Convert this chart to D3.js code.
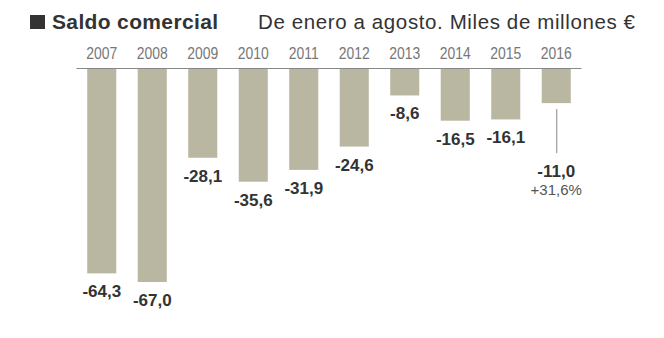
<!DOCTYPE html>
<html>
<head>
<meta charset="utf-8">
<script src="https://cdn.jsdelivr.net/npm/d3@7"></script>
<style>
  body { margin: 0; background: #fff; }
  svg { display: block; }
</style>
</head>
<body>
<svg id="chart" width="664" height="338"></svg>
<script>
// Saldo comercial, enero-agosto, miles de millones de euros
var years = ["2007", "2008", "2009", "2010", "2011", "2012", "2013", "2014", "2015", "2016"];
var saldo = [-64.3, -67.0, -28.1, -35.6, -31.9, -24.6, -8.6, -16.5, -16.1, -11.0];
var variacion2016 = "+31,6%";

var title = "Saldo comercial";
var subtitle = "De enero a agosto. Miles de millones €";

var svg = d3.select("svg#chart");
var font = "Liberation Sans, Arial, Helvetica, sans-serif";

var x = d3.scaleBand()
    .domain(years)
    .range([76.5, 581.5])
    .paddingInner(0.425)
    .paddingOuter(0.2125);

var y = d3.scaleLinear()
    .domain([0, -67])
    .range([68, 282]);

var fmt = function(v) { return d3.format(".1f")(v).replace(".", ",").replace("−", "-"); };

// title
svg.append("rect")
    .attr("x", 30).attr("y", 15)
    .attr("width", 15).attr("height", 14)
    .attr("fill", "#333");

svg.append("text")
    .attr("x", 52).attr("y", 29)
    .attr("font-family", font)
    .attr("font-weight", "bold")
    .attr("font-size", 21)
    .attr("textLength", 166)
    .attr("fill", "#333")
    .text(title);

svg.append("text")
    .attr("x", 258).attr("y", 29)
    .attr("font-family", font)
    .attr("font-size", 20.5)
    .attr("textLength", 377)
    .attr("fill", "#333")
    .text(subtitle);

// year labels (slightly condensed)
svg.selectAll("text.year").data(years).enter()
    .append("text")
    .attr("class", "year")
    .attr("transform", function(d) {
        return "translate(" + (x(d) + x.bandwidth() / 2) + ",59) scale(0.87,1)";
    })
    .attr("text-anchor", "middle")
    .attr("font-family", font)
    .attr("font-size", 16)
    .attr("fill", "#777")
    .text(function(d) { return d; });

// bars
svg.selectAll("rect.bar").data(saldo).enter()
    .append("rect")
    .attr("class", "bar")
    .attr("x", function(d, i) { return x(years[i]); })
    .attr("y", y(0))
    .attr("width", x.bandwidth())
    .attr("height", function(d) { return y(d) - y(0); })
    .attr("fill", "#b9b6a1");

// zero line
svg.append("line")
    .attr("x1", x.range()[0]).attr("x2", x.range()[1])
    .attr("y1", y(0) + 0.5).attr("y2", y(0) + 0.5)
    .attr("stroke", "#888")
    .attr("stroke-width", 1);

// value labels
var last = years.length - 1;
svg.selectAll("text.val").data(saldo).enter()
    .append("text")
    .attr("class", "val")
    .attr("x", function(d, i) { return x(years[i]) + x.bandwidth() / 2; })
    .attr("y", function(d, i) { return y(d) + (i == last ? 74 : 24); })
    .attr("text-anchor", "middle")
    .attr("font-family", font)
    .attr("font-weight", "bold")
    .attr("font-size", 17)
    .attr("fill", "#333")
    .text(function(d) { return fmt(d); });

// 2016 callout
var cx = x(years[last]) + x.bandwidth() / 2;
svg.append("line")
    .attr("x1", cx + 0.5).attr("x2", cx + 0.5)
    .attr("y1", y(saldo[last]) + 6).attr("y2", y(saldo[last]) + 50)
    .attr("stroke", "#888")
    .attr("stroke-width", 1);

svg.append("text")
    .attr("x", cx)
    .attr("y", y(saldo[last]) + 92)
    .attr("text-anchor", "middle")
    .attr("font-family", font)
    .attr("font-size", 15)
    .attr("fill", "#555")
    .text(variacion2016);
</script>
</body>
</html>
